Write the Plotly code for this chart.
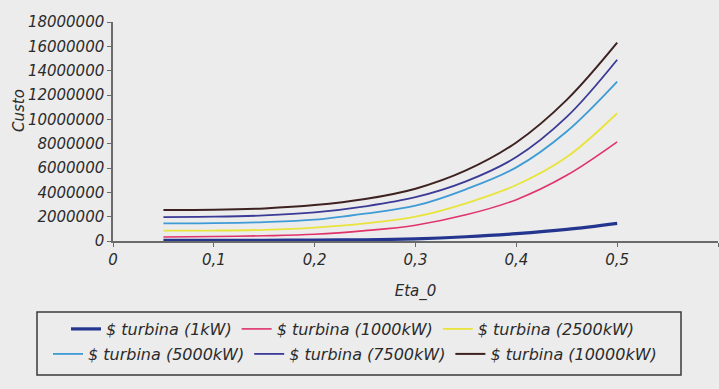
import plotly.graph_objects as go

# ---- data ----
eta = [0.05, 0.10, 0.15, 0.20, 0.25, 0.30, 0.35, 0.40, 0.45, 0.50]

custo_1kw     = [50000, 50000, 60000, 80000, 100000, 180000, 350000, 600000, 950000, 1450000]
custo_1000kw  = [330000, 370000, 430000, 550000, 850000, 1300000, 2150000, 3400000, 5400000, 8150000]
custo_2500kw  = [850000, 860000, 920000, 1100000, 1450000, 2000000, 3100000, 4600000, 6900000, 10500000]
custo_5000kw  = [1450000, 1470000, 1550000, 1750000, 2250000, 2900000, 4250000, 6050000, 9000000, 13100000]
custo_7500kw  = [1970000, 2000000, 2100000, 2350000, 2850000, 3600000, 4900000, 6900000, 10200000, 14900000]
custo_10000kw = [2550000, 2570000, 2680000, 2950000, 3450000, 4300000, 5800000, 8100000, 11600000, 16300000]

series_names = ["$ turbina (1kW)", "$ turbina (1000kW)", "$ turbina (2500kW)",
                "$ turbina (5000kW)", "$ turbina (7500kW)", "$ turbina (10000kW)"]
series_values = [custo_1kw, custo_1000kw, custo_2500kw, custo_5000kw, custo_7500kw, custo_10000kw]

x_tickvals = [0, 0.1, 0.2, 0.3, 0.4, 0.5, 0.6]
x_ticktext = ["0", "0,1", "0,2", "0,3", "0,4", "0,5", "0,6"]
y_tickvals = [0, 2000000, 4000000, 6000000, 8000000, 10000000, 12000000, 14000000, 16000000, 18000000]
y_ticktext = ["0", "2000000", "4000000", "6000000", "8000000", "10000000",
              "12000000", "14000000", "16000000", "18000000"]

# ---- styles ----
colors = ["#23358f", "#e0336a", "#e9e43c", "#3f9bd6", "#3b3a96", "#3e2222"]
widths = [3.2, 1.6, 1.8, 1.8, 1.8, 2.0]
legend_ids = ["legend", "legend", "legend", "legend2", "legend2", "legend2"]

FONT = "DejaVu Sans"
TXT = "#2b2b2b"
BG = "#ececec"
PLOT_W = 605.0
PLOT_H = 219.0


def px_x(p):
    return (p - 113) / PLOT_W


def px_y(p):
    return (241 - p) / PLOT_H


fig = go.Figure()
for name, vals, c, w, lg in zip(series_names, series_values, colors, widths, legend_ids):
    fig.add_trace(go.Scatter(
        x=eta, y=vals, mode="lines", name=name,
        line=dict(color=c, width=w, shape="spline", smoothing=1.0),
        legend=lg,
    ))

legend_common = dict(
    orientation="h", xanchor="left", yanchor="middle",
    bgcolor="rgba(0,0,0,0)", borderwidth=0,
    font=dict(family=FONT, size=16, color=TXT, style="italic"),
    itemwidth=30, tracegroupgap=0,
)

fig.update_layout(
    width=719, height=389,
    margin=dict(l=113, r=1, t=22, b=148),
    paper_bgcolor=BG, plot_bgcolor=BG,
    font=dict(family=FONT, size=15, color=TXT),
    showlegend=True,
    legend=dict(x=px_x(66), y=px_y(329), **legend_common),
    legend2=dict(x=px_x(48), y=px_y(354), **legend_common),
    xaxis=dict(
        range=[0, 0.6], tickvals=x_tickvals, ticktext=x_ticktext,
        showgrid=False, zeroline=False,
        showline=True, linecolor="#6a6a6a", linewidth=1.5,
        ticks="outside", ticklen=4, tickcolor="#6a6a6a",
        tickfont=dict(family=FONT, size=15, color=TXT, style="italic"),
        title=dict(text="Eta_0", font=dict(family=FONT, size=15, color=TXT, style="italic"),
                   standoff=18),
        fixedrange=True,
    ),
    yaxis=dict(
        range=[0, 18000000], tickvals=y_tickvals, ticktext=y_ticktext,
        showgrid=False, zeroline=False,
        showline=True, linecolor="#6a6a6a", linewidth=1.5,
        ticks="outside", ticklen=4, tickcolor="#6a6a6a",
        tickfont=dict(family=FONT, size=15, color=TXT, style="italic"),
        fixedrange=True,
    ),
    annotations=[dict(
        text="Custo", xref="paper", yref="paper",
        x=px_x(19), y=px_y(111),
        xanchor="center", yanchor="middle", textangle=-90, showarrow=False,
        font=dict(family=FONT, size=15, color=TXT, style="italic"),
    )],
    shapes=[dict(
        type="rect", xref="paper", yref="paper",
        x0=px_x(37), x1=px_x(681), y0=px_y(375), y1=px_y(312),
        line=dict(color="#3a3a3a", width=1.5), fillcolor="rgba(0,0,0,0)", layer="below",
    )],
)

fig.write_html("out.html", config={"displayModeBar": False},
               post_script="document.body.style.margin='0px';")
